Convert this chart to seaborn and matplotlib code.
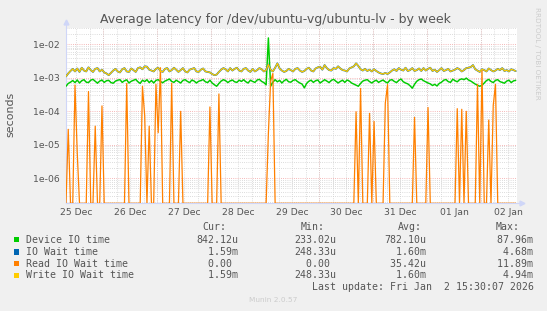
import numpy as np
import pandas as pd
import seaborn as sns
import matplotlib
matplotlib.use("Agg")
import matplotlib.pyplot as plt
from matplotlib.ticker import FixedLocator, FuncFormatter, NullFormatter
from matplotlib.patches import Rectangle
from matplotlib.lines import Line2D

# ---------------- data ----------------
# sample times: first sample at 25 Dec ~07:26 (days since 25 Dec 00:00), hourly samples
start_day = 0.31
step_hours = 1.0

device_io_us = [
    560, 680, 740, 830, 720, 860, 700, 820, 880, 740, 720, 850, 900, 790, 690, 800, 860, 730, 820, 840,
    720, 690, 800, 850, 880, 730, 820, 870, 700, 790, 840, 900, 760, 680, 850, 770, 880, 720, 830, 700,
    840, 880, 780, 710, 800, 860, 920, 780, 730, 850, 770, 700, 840, 880, 780, 720, 860, 800, 700, 790,
    830, 890, 760, 720, 850, 700, 620, 560, 680, 800, 880, 820, 720, 810, 860, 760, 730, 850, 780, 880,
    760, 700, 850, 780, 730, 860, 900, 780, 720, 620, 15500, 560, 740, 880, 760, 840, 700, 820, 900, 760,
    740, 840, 880, 770, 700, 650, 500, 680, 790, 850, 730, 820, 860, 700, 780, 880, 800, 720, 840, 900,
    790, 700, 780, 850, 730, 860, 800, 700, 650, 600, 560, 680, 800, 850, 880, 770, 700, 790, 850, 730,
    800, 860, 760, 700, 850, 880, 780, 720, 840, 920, 760, 700, 660, 580, 490, 640, 790, 880, 920, 820,
    760, 700, 660, 590, 640, 570, 680, 740, 850, 890, 770, 730, 910, 820, 760, 880, 930, 880, 980, 860,
    800, 720, 650, 600, 560, 600, 700, 830, 900, 780, 720, 840, 880, 770, 730, 690, 800, 850, 720, 810, 842,
]

write_wait_us = [
    1100, 1350, 1600, 1850, 1550, 1900, 1500, 2000, 1650, 1550, 2050, 1700, 1500, 1850, 1950, 1550, 1750, 1450, 1350, 1200,
    1400, 1650, 1850, 1550, 1450, 1800, 1950, 1550, 1500, 1900, 1700, 1500, 1950, 2050, 1800, 2200, 2150, 1750, 1650, 1550,
    1850, 2000, 1600, 1500, 1850, 1950, 1550, 1700, 2000, 1750, 1500, 1700, 1950, 1550, 1450, 1750, 1850, 1950, 1550, 1500,
    1750, 1900, 1550, 1500, 1450, 1300, 1200, 1250, 1500, 1750, 1950, 1800, 1550, 1950, 1650, 1850, 2000, 1650, 1550, 1850,
    1950, 1650, 1500, 1850, 1550, 1700, 1950, 1800, 1550, 1700, 2500, 1750, 1550, 2000, 2700, 1900, 1650, 1500, 1600, 1850,
    1700, 1550, 1850, 1950, 1650, 1500, 1600, 1850, 2000, 1650, 1550, 1900, 2050, 2150, 1750, 2400, 1950, 1700, 1650, 1950,
    1850, 2200, 1900, 1700, 1650, 1550, 1900, 2050, 2200, 2700, 2250, 1800, 1650, 1850, 1600, 1750, 1550, 1800, 1600, 1450,
    1350, 1300, 1400, 1300, 1450, 1650, 1800, 1600, 1950, 1750, 1650, 2000, 1600, 1700, 1950, 1600, 1700, 1900, 1600, 1950,
    1650, 1850, 2000, 1600, 1750, 1500, 1700, 1950, 1600, 1700, 1850, 1550, 1650, 1750, 1950, 1800, 1550, 1700, 1950, 2000,
    2100, 2400, 1800, 1650, 1500, 1800, 1700, 1550, 1900, 1700, 1550, 1650, 1850, 1700, 1950, 1600, 1700, 1550, 1800, 1700, 1590,
]
# IO Wait time coincides with Write IO Wait time (reads are almost always zero)
io_wait_us = list(write_wait_us)

# Read IO Wait time: zero except for these samples
read_wait_idx = [1, 4, 5, 10, 13, 16, 27, 34, 35, 37, 40, 41, 42, 47, 51, 64, 68, 90, 91, 92,
                 129, 131, 135, 137, 142, 143, 155, 161, 174, 176, 178, 183, 185, 188, 190, 191]
read_wait_s = [2.9e-5, 6.1e-4, 5.8e-6, 3.9e-4, 3.6e-5, 1.45e-4, 6.8e-4, 5.6e-4, 7.3e-5, 3.6e-5,
               6.4e-4, 2.3e-5, 2.0e-3, 6.9e-4, 1.0e-4, 1.35e-4, 3.3e-4, 2.2e-5, 8.0e-4, 1.35e-3,
               9.7e-5, 4.8e-4, 8.7e-5, 5.0e-5, 1.75e-4, 6.3e-4, 6.6e-5, 1.3e-4, 1.2e-4, 1.15e-4,
               1.0e-4, 6.4e-4, 1.7e-3, 5.5e-5, 1.5e-4, 6.4e-4]

day_labels = ["25 Dec", "26 Dec", "27 Dec", "28 Dec", "29 Dec", "30 Dec", "31 Dec", "01 Jan", "02 Jan"]
y_ticks = [1e-6, 1e-5, 1e-4, 1e-3, 1e-2]

series_names = ["Device IO time", "IO Wait time", "Read IO Wait time", "Write IO Wait time"]
series_colors = ["#00CC00", "#0066B3", "#FF8000", "#FFCC00"]
cur_vals = ["842.12u", "  1.59m", "  0.00 ", "  1.59m"]
min_vals = ["233.02u", "248.33u", "  0.00 ", "248.33u"]
avg_vals = ["782.10u", "  1.60m", " 35.42u", "  1.60m"]
max_vals = [" 87.96m", "  4.68m", " 11.89m", "  4.94m"]
title = "Average latency for /dev/ubuntu-vg/ubuntu-lv - by week"
last_update = "Last update: Fri Jan  2 15:30:07 2026"

# ---------------- build frame ----------------
n = len(device_io_us)
t = start_day + np.arange(n) * step_hours / 24.0
read_full = np.zeros(n)
read_full[read_wait_idx] = read_wait_s
df = pd.DataFrame({
    "t": t,
    "Device IO time": np.array(device_io_us) * 1e-6,
    "IO Wait time": np.array(io_wait_us) * 1e-6,
    "Read IO Wait time": read_full,
    "Write IO Wait time": np.array(write_wait_us) * 1e-6,
})

Y_MIN, Y_MAX = 1.8e-7, 3.13e-2
X_MIN, X_MAX = 0.31, 8.667

W, H = 547, 311
sns.set_theme(style="white")
plt.rcParams["font.family"] = ["DejaVu Sans"]
fig = plt.figure(figsize=(W / 100, H / 100), dpi=100, facecolor="#F0F0F0")
ax = fig.add_axes([66 / W, 1 - 203.3 / H, (517 - 66) / W, (203.3 - 27.7) / H])
ax.set_facecolor("white")

TXT = "#555555"

ax.set_yscale("log")
ax.set_xlim(X_MIN, X_MAX)
ax.set_ylim(Y_MIN, Y_MAX)

# ticks & grid
days = np.arange(1, len(day_labels))
ax.xaxis.set_major_locator(FixedLocator(np.arange(len(day_labels)) + 0.5))
ax.xaxis.set_major_formatter(FuncFormatter(
    lambda v, p: day_labels[int(round(v - 0.5))] if 0 <= int(round(v - 0.5)) < len(day_labels) else ""))
ax.xaxis.set_minor_locator(FixedLocator(np.arange(0.25, 8.75, 0.25)))
ax.xaxis.set_minor_formatter(NullFormatter())
ax.yaxis.set_major_locator(FixedLocator(y_ticks))
ax.yaxis.set_major_formatter(FuncFormatter(lambda v, p: f"{v:.0e}"))
minor_y = [m * 10.0 ** e for e in range(-7, -1) for m in range(2, 10)]
ax.yaxis.set_minor_locator(FixedLocator(minor_y))
ax.yaxis.set_minor_formatter(NullFormatter())

grey_grid = dict(color="#D0D0D0", lw=0.6, ls=(0, (1, 1.6)))
red_grid = dict(color="#F2A0A0", lw=0.6, ls=(0, (1, 1.6)))
ax.grid(which="minor", axis="both", **grey_grid)
ax.grid(which="major", axis="x", **grey_grid)
ax.grid(which="major", axis="y", **red_grid)
for d in days:
    ax.axvline(d, zorder=0.5, **red_grid)
ax.set_axisbelow(True)

ax.tick_params(which="both", length=0)
ax.tick_params(axis="y", labelsize=6.7, labelcolor=TXT, pad=4.5)
ax.tick_params(axis="x", labelsize=6.7, labelcolor=TXT, pad=3.5)

# axes / spines
for s in ["top", "right"]:
    ax.spines[s].set_visible(False)
for s in ["left", "bottom"]:
    ax.spines[s].set_color("#CFD6F8")
    ax.spines[s].set_linewidth(0.8)
ax.add_line(Line2D([0, 0], [1.0, 1.035], transform=ax.transAxes, color="#CFD6F8", lw=0.8, clip_on=False))
ax.plot([0], [1.035], marker="^", ms=3.5, color="#CFD6F8", transform=ax.transAxes, clip_on=False)
ax.add_line(Line2D([1.0, 1.01], [0, 0], transform=ax.transAxes, color="#CFD6F8", lw=0.8, clip_on=False))
ax.plot([1.01], [0], marker=">", ms=3.5, color="#CFD6F8", transform=ax.transAxes, clip_on=False)

# lines (rrdtool draw order)
for name, col, lw in zip(series_names, series_colors, [1.05, 1.3, 0.9, 0.95]):
    yv = np.clip(df[name].values, Y_MIN, None)
    sns.lineplot(x=df["t"], y=yv, ax=ax, color=col, lw=lw, legend=False, sort=False,
                 estimator=None, zorder=3)
ax.set_xlabel("")
ax.set_ylabel("")

# texts
def fx(px):
    return px / W

def fy(py):
    return 1 - py / H

fig.text(fx(275), fy(19.5), title, ha="center", va="center", fontsize=9, color=TXT)
fig.text(fx(10.7), fy(114), "seconds", rotation=90, ha="center", va="center", fontsize=7.9, color=TXT)
fig.text(fx(537), fy(53), "RRDTOOL / TOBI OETIKER", rotation=-90, ha="center", va="center",
         fontsize=5.2, color="#CCCCCC")
fig.text(fx(273), fy(300), "Munin 2.0.57", ha="center", va="center", fontsize=5.3, color="#CCCCCC")

MONO = dict(family="DejaVu Sans Mono", fontsize=7.1, color=TXT, va="center", ha="left")
hdr_y = 227.3
for lab, x in zip(["Cur:", "Min:", "Avg:", "Max:"], [202.3, 300.7, 397.7, 495.7]):
    fig.text(fx(x), fy(hdr_y), lab, **MONO)
row_y = [239.6, 251.9, 263.6, 275.3]
for i, name in enumerate(series_names):
    y = row_y[i]
    fig.add_artist(Rectangle((fx(14.0), fy(y + 2.7)), 5.4 / W, 5.4 / H, transform=fig.transFigure,
                             facecolor=series_colors[i], edgecolor="none"))
    fig.text(fx(26.3), fy(y), name, **MONO)
    for vals, x in zip([cur_vals, min_vals, avg_vals, max_vals], [196.0, 294.0, 384.3, 491.0]):
        fig.text(fx(x), fy(y), vals[i], **MONO)
fig.text(fx(311.7), fy(287.3), last_update, **MONO)

fig.savefig("out.png", dpi=100, facecolor=fig.get_facecolor())
